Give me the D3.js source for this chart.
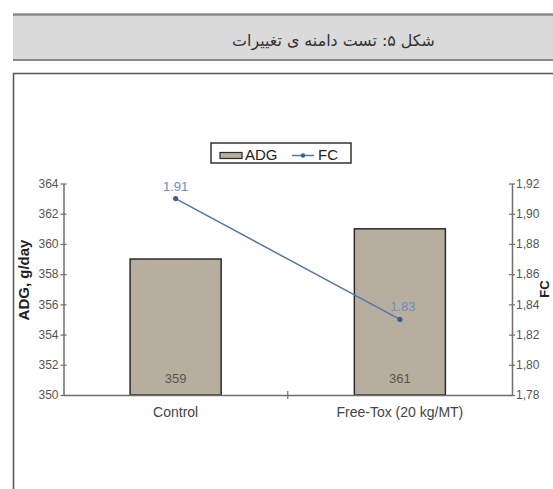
<!DOCTYPE html>
<html><head><meta charset="utf-8">
<script src="https://cdn.jsdelivr.net/npm/d3@7"></script>
<style>body{margin:0;background:#fff}svg{display:block}</style>
</head><body>
<svg id="c" width="553" height="489"></svg>
<script>
const title = "شکل ۵: تست دامنه ی تغییرات";
const categories = ["Control", "Free-Tox (20 kg/MT)"];
const adgValues = [359, 361];
const fcValues = [1.91, 1.83];
const fcLabels = ["1.91", "1.83"];
const leftTicks = [350, 352, 354, 356, 358, 360, 362, 364];
const rightTicks = [1.78, 1.80, 1.82, 1.84, 1.86, 1.88, 1.90, 1.92];
const leftTitle = "ADG, g/day";
const rightTitle = "FC";
const legendNames = ["ADG", "FC"];

const svg = d3.select("#c");
const barFill = "#b8ae9f", lineCol = "#5477a3", labCol = "#6a8cc2", axisCol = "#6e6e6e", tickText = "#555";
const font = "'Liberation Sans', Arial, sans-serif";

// page frame
svg.append("rect").attr("x", 13).attr("y", 14).attr("width", 545).attr("height", 46).attr("fill", "#dadada");
svg.append("line").attr("x1", 13).attr("x2", 553).attr("y1", 14.5).attr("y2", 14.5).attr("stroke", "#8a8a8a").attr("stroke-width", 2.5);
svg.append("line").attr("x1", 13).attr("x2", 553).attr("y1", 60).attr("y2", 60).attr("stroke", "#8a8a8a").attr("stroke-width", 2);
const tt = svg.append("text").attr("x", 333.5).attr("y", 46).attr("text-anchor", "middle")
  .attr("font-family", "'DejaVu Sans', sans-serif").attr("font-size", 17).attr("fill", "#333")
  .attr("direction", "rtl").text(title);
const tw = tt.node().getComputedTextLength();
if (tw > 0) tt.attr("font-size", 17 * 203 / tw);
svg.append("path").attr("d", "M13.5,489V73.5H553").attr("fill", "none").attr("stroke", "#555").attr("stroke-width", 1.5);

// scales
const x0 = 63.5, x1 = 512, yB = 395, yT = 183.5;
const x = d3.scaleBand().domain(categories).range([x0, x1]).paddingInner(0.594).paddingOuter(0.297);
const yL = d3.scaleLinear().domain([350, 364]).range([yB, yT]);
const yR = d3.scaleLinear().domain([1.78, 1.92]).range([yB, yT]);

// bars
svg.append("g").selectAll("rect").data(adgValues).join("rect")
  .attr("x", (d, i) => x(categories[i])).attr("width", x.bandwidth())
  .attr("y", d => yL(d)).attr("height", d => yB - yL(d))
  .attr("fill", barFill).attr("stroke", "#2b2b2b").attr("stroke-width", 1.5);
svg.append("g").selectAll("text").data(adgValues).join("text")
  .attr("x", (d, i) => x(categories[i]) + x.bandwidth() / 2).attr("y", yB - 12)
  .attr("text-anchor", "middle").attr("font-family", font).attr("font-size", 13).attr("fill", "#555")
  .text(d => d);

// axes
function styleAxis(g) {
  g.select(".domain").attr("stroke", axisCol).attr("stroke-width", 1.5);
  g.selectAll(".tick line").attr("stroke", axisCol).attr("stroke-width", 1.2);
  g.selectAll(".tick text").attr("fill", tickText).attr("font-family", font).attr("font-size", 12);
}
const gl = svg.append("g").attr("transform", `translate(${x0},0)`)
  .call(d3.axisLeft(yL).tickValues(leftTicks).tickSizeOuter(0).tickSizeInner(3).tickPadding(2).tickFormat(d3.format("d")));
styleAxis(gl);
gl.selectAll(".tick line").attr("x1", -3).attr("x2", 3);
const gr = svg.append("g").attr("transform", `translate(${x1},0)`)
  .call(d3.axisRight(yR).tickValues(rightTicks).tickSizeOuter(0).tickSizeInner(3).tickPadding(1).tickFormat(d => d3.format(".2f")(d).replace(".", ",")));
styleAxis(gr);
gr.selectAll(".tick line").attr("x1", -3).attr("x2", 3);
const gx = svg.append("g").attr("transform", `translate(0,${yB})`)
  .call(d3.axisBottom(x).tickSize(0).tickSizeOuter(0).tickPadding(12));
styleAxis(gx);
gx.selectAll(".tick text").attr("font-size", 14).attr("fill", "#444");
const bound = x(categories[1]) - (x.step() - x.bandwidth()) / 2;
svg.append("line").attr("x1", bound).attr("x2", bound).attr("y1", yB - 4).attr("y2", yB + 4).attr("stroke", axisCol).attr("stroke-width", 1.2);

// axis titles
svg.append("text").attr("transform", `translate(29,280) rotate(-90)`).attr("text-anchor", "middle")
  .attr("font-family", font).attr("font-weight", "bold").attr("font-size", 15).attr("fill", "#222").text(leftTitle);
svg.append("text").attr("transform", `translate(549,289) rotate(-90)`).attr("text-anchor", "middle")
  .attr("font-family", font).attr("font-weight", "bold").attr("font-size", 13).attr("fill", "#222").text(rightTitle);

// line series
const cx = (d, i) => x(categories[i]) + x.bandwidth() / 2;
svg.append("path").datum(fcValues)
  .attr("d", d3.line().x(cx).y(d => yR(d)))
  .attr("fill", "none").attr("stroke", lineCol).attr("stroke-width", 1.5);
svg.append("g").selectAll("circle").data(fcValues).join("circle")
  .attr("cx", cx).attr("cy", d => yR(d)).attr("r", 2.6).attr("fill", "#3d5f8c");
svg.append("g").selectAll("text").data(fcValues).join("text")
  .attr("x", (d, i) => cx(d, i) + (i === 1 ? 3 : 0)).attr("y", d => yR(d) - 8)
  .attr("text-anchor", "middle").attr("font-family", font).attr("font-size", 13).attr("fill", labCol)
  .text((d, i) => fcLabels[i]);

// legend
const lg = svg.append("g");
lg.append("rect").attr("x", 211).attr("y", 143).attr("width", 140).attr("height", 20)
  .attr("fill", "#fff").attr("stroke", "#333").attr("stroke-width", 1.5);
lg.append("rect").attr("x", 220).attr("y", 152.5).attr("width", 22).attr("height", 6)
  .attr("fill", barFill).attr("stroke", "#2b2b2b").attr("stroke-width", 1.2);
lg.append("text").attr("x", 245).attr("y", 159.5).attr("font-family", font).attr("font-size", 15).attr("fill", "#222").text(legendNames[0]);
lg.append("line").attr("x1", 292).attr("x2", 314).attr("y1", 155.5).attr("y2", 155.5).attr("stroke", lineCol).attr("stroke-width", 1.5);
lg.append("circle").attr("cx", 303).attr("cy", 155.5).attr("r", 2.2).attr("fill", "#3d5f8c");
lg.append("text").attr("x", 318).attr("y", 159.5).attr("font-family", font).attr("font-size", 15).attr("fill", "#222").text(legendNames[1]);
</script>
</body></html>
